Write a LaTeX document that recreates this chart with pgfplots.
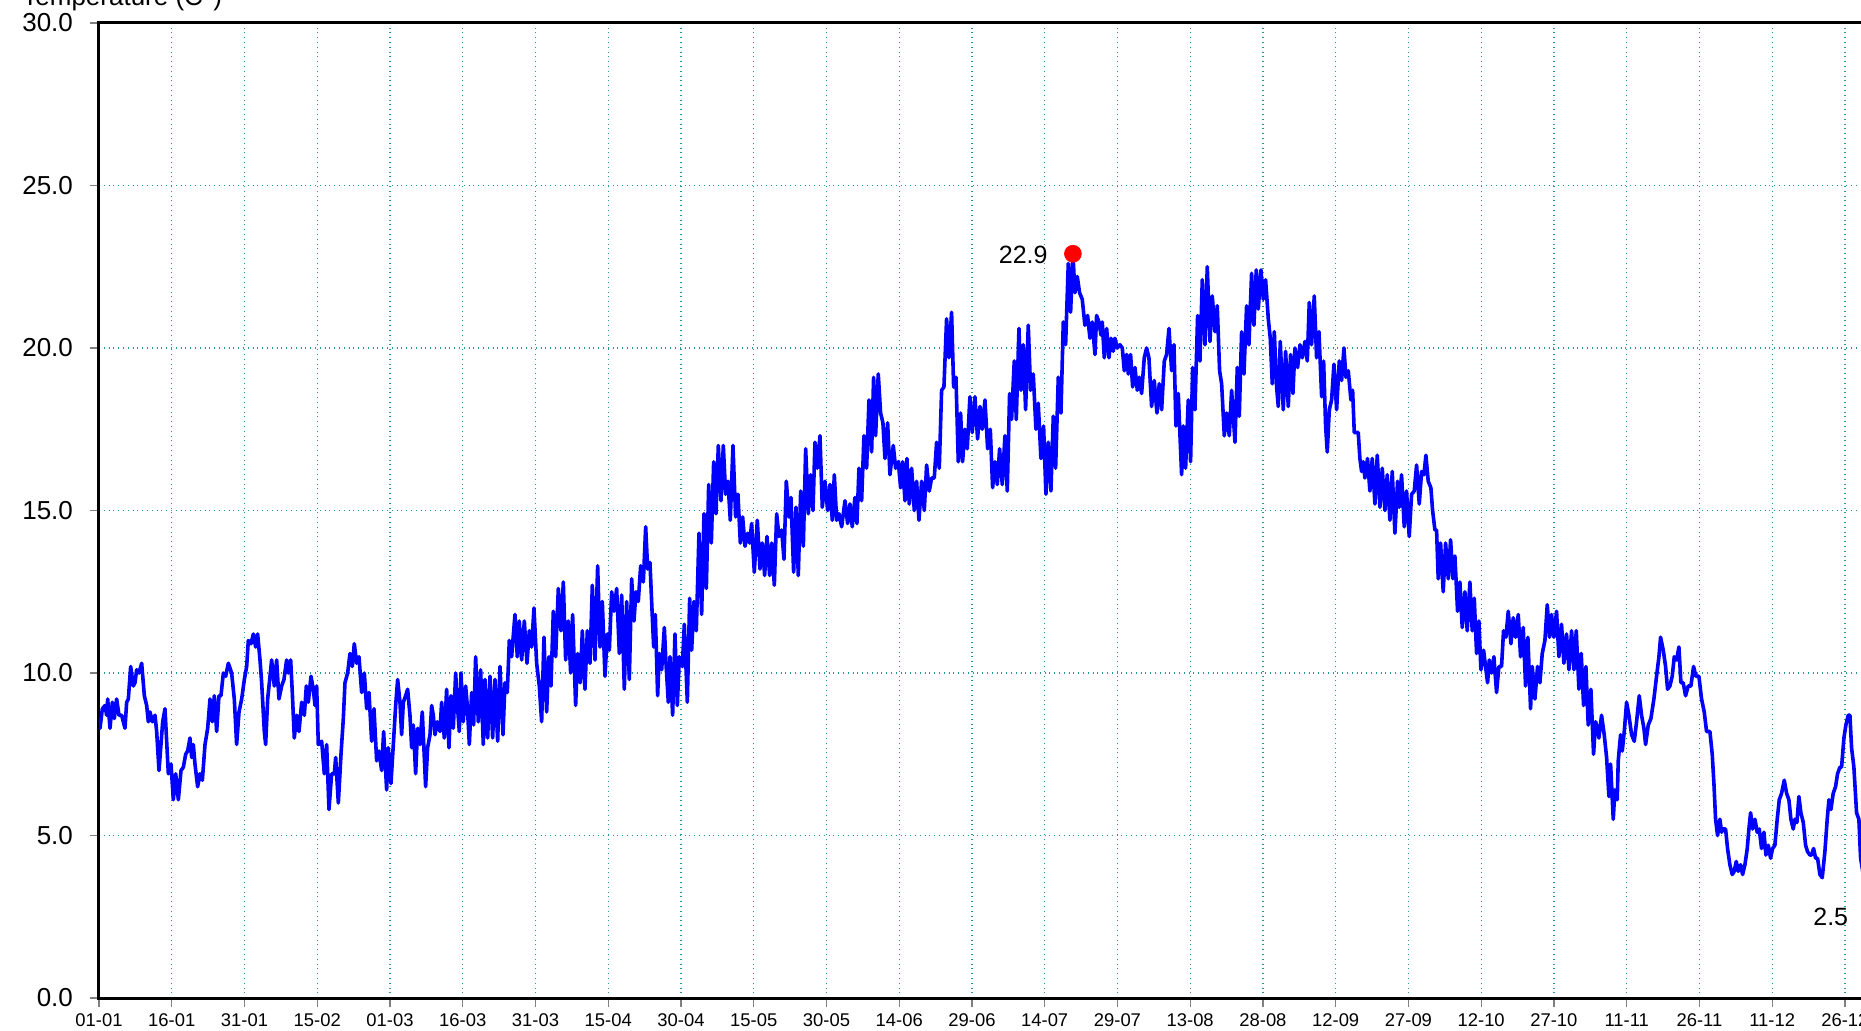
\documentclass[border=0pt]{standalone}
\usepackage{fontspec}
\setmainfont{Liberation Sans}
\usepackage{pgfplots}
\pgfplotsset{compat=1.18}
\definecolor{gridc}{RGB}{40,150,150}
\begin{document}
\begin{tikzpicture}
\begin{axis}[
  at={(0,0)}, anchor=south west,
  scale only axis, width=887.5pt, height=487.5pt,
  xmin=0, xmax=366, ymin=0, ymax=30,
  xtick={0,15,...,360},
  xticklabels={01-01,16-01,31-01,15-02,01-03,16-03,31-03,15-04,30-04,15-05,30-05,14-06,29-06,14-07,29-07,13-08,28-08,12-09,27-09,12-10,27-10,11-11,26-11,11-12,26-12},
  ytick={0,5,...,30},
  yticklabels={0.0,5.0,10.0,15.0,20.0,25.0,30.0},
  xtick pos=bottom, ytick pos=left,
  grid=major,
  major grid style={gridc, dotted, line width=0.6pt},
  axis line style={black, line width=1.5pt},
  tick align=outside,
  major tick length=4.5pt,
  tick style={gray, line width=0.6pt},
  xticklabel style={font=\fontsize{9.2}{9.2}\selectfont},
  yticklabel style={font=\fontsize{13}{13}\selectfont, xshift=-5pt},
]
\addplot[blue, line width=1.8pt, line join=round, no marks] coordinates {
(0.0,8.6)(0.21,8.3)(0.69,8.9)(1.24,9.0)(1.58,8.7)(1.79,9.2)(2.27,8.3)(2.75,9.1)(3.16,8.6)(3.64,9.2)(4.12,8.7)(4.67,8.7)(5.36,8.3)(5.70,9.1)(6.05,9.2)(6.53,10.2)(7.08,9.6)(7.42,9.7)(7.77,10.1)(8.25,10.0)(8.80,10.3)(9.35,9.3)(9.83,9.0)(10.17,8.5)(10.52,8.8)(11.0,8.5)(11.55,8.7)(11.89,8.2)(12.37,7.0)(12.78,7.8)(13.13,8.5)(13.61,8.9)(13.95,7.9)(14.30,6.9)(14.85,7.2)(15.33,6.1)(15.81,6.9)(16.36,6.1)(16.91,7.0)(17.39,7.1)(17.87,7.5)(18.28,7.6)(18.76,8.0)(19.11,7.4)(19.45,7.8)(19.79,7.2)(20.34,6.5)(20.82,6.9)(21.31,6.7)(21.86,7.8)(22.41,8.3)(22.89,9.2)(23.37,8.5)(23.78,9.3)(24.26,8.2)(24.74,9.3)(25.15,9.3)(25.64,10.0)(26.12,9.9)(26.67,10.3)(27.35,10.0)(27.90,9.2)(28.38,7.8)(28.87,8.8)(29.42,9.2)(29.97,9.8)(30.45,10.2)(30.79,11.0)(31.34,10.9)(31.82,11.2)(32.30,10.8)(32.71,11.2)(33.20,10.4)(33.54,9.7)(34.09,8.2)(34.36,7.8)(34.78,9.2)(35.26,9.9)(35.60,10.4)(36.15,9.6)(36.63,10.4)(37.11,9.2)(37.66,9.6)(38.14,9.8)(38.69,10.4)(39.04,10.0)(39.52,10.4)(39.86,9.4)(40.27,8.0)(40.76,8.7)(41.24,8.2)(41.79,9.1)(42.34,8.7)(42.75,9.6)(43.16,9.1)(43.71,9.9)(44.19,9.5)(44.54,9.0)(44.88,9.6)(45.22,7.8)(45.91,7.9)(46.46,6.9)(46.94,7.8)(47.42,5.8)(47.97,6.9)(48.52,6.9)(48.80,7.4)(49.35,6.0)(49.90,7.5)(50.38,8.6)(50.72,9.7)(51.27,10.0)(51.75,10.6)(52.23,10.2)(52.64,10.9)(53.13,10.3)(53.61,10.5)(54.16,9.4)(54.71,10.0)(55.19,8.9)(55.67,9.4)(56.22,7.9)(56.70,8.9)(57.25,7.3)(57.73,7.6)(58.28,7.0)(58.69,8.2)(59.31,6.4)(59.65,7.7)(60.20,6.6)(60.69,7.8)(61.17,9.0)(61.58,9.8)(62.06,9.1)(62.40,8.1)(62.75,9.1)(63.23,9.3)(63.64,9.5)(64.12,8.7)(64.47,7.7)(64.81,8.4)(65.29,6.9)(65.70,8.3)(66.18,7.8)(66.66,8.8)(67.35,6.5)(67.76,7.7)(68.25,8.1)(68.59,9.0)(68.93,8.7)(69.28,8.1)(69.76,8.5)(70.31,8.2)(70.65,9.1)(71.20,8.0)(71.68,9.5)(72.16,7.7)(72.58,9.3)(73.06,8.3)(73.54,10.0)(73.95,8.9)(74.29,8.2)(74.64,10.0)(75.12,8.5)(75.60,9.6)(75.94,9.0)(76.36,7.8)(76.84,9.4)(77.25,8.4)(77.66,10.5)(78.21,8.5)(78.69,10.1)(79.24,7.8)(79.59,9.8)(80.14,8.0)(80.62,9.9)(81.17,8.0)(81.65,9.8)(82.20,7.9)(82.68,10.2)(83.30,8.1)(83.71,9.7)(84.19,9.4)(84.60,11.0)(85.08,10.5)(85.77,11.8)(86.25,10.5)(86.67,11.6)(87.15,10.4)(87.70,11.6)(88.25,10.3)(88.73,11.3)(89.21,10.8)(89.69,12.0)(90.24,10.3)(90.79,9.6)(91.27,8.5)(91.75,11.1)(92.30,8.8)(92.78,10.5)(93.19,9.6)(93.68,11.9)(94.16,10.5)(94.71,12.6)(95.26,11.3)(95.74,12.8)(96.22,10.4)(96.77,11.6)(97.25,10.0)(97.66,11.8)(98.28,9.0)(98.69,10.6)(99.24,9.7)(99.66,11.3)(100.20,9.5)(100.69,11.3)(101.24,10.3)(101.72,12.7)(102.27,10.4)(102.82,13.3)(103.30,10.8)(103.78,12.2)(104.33,9.9)(104.81,11.2)(105.23,10.7)(105.71,12.5)(106.19,11.9)(106.74,12.6)(107.29,10.6)(107.77,12.4)(108.32,9.5)(108.80,12.2)(109.35,9.8)(109.83,12.9)(110.31,11.6)(110.72,12.5)(111.20,12.2)(111.69,13.3)(112.24,12.8)(112.72,14.5)(113.13,13.2)(113.61,13.4)(113.95,12.2)(114.37,10.8)(114.71,11.8)(115.19,9.3)(115.53,10.6)(116.02,10.1)(116.57,11.4)(116.91,10.3)(117.39,9.1)(117.73,10.5)(118.28,8.7)(118.76,11.2)(119.25,9.0)(119.66,10.5)(120.28,10.2)(120.69,11.5)(121.31,9.1)(121.79,12.3)(122.20,10.7)(122.68,12.2)(123.16,11.3)(123.71,14.3)(124.26,11.8)(124.74,14.9)(125.23,12.6)(125.71,15.8)(126.26,14.0)(126.74,16.5)(127.22,14.9)(127.70,17.0)(128.25,15.3)(128.73,17.0)(129.21,15.5)(129.69,15.9)(130.17,14.7)(130.72,17.0)(131.27,14.8)(131.75,15.5)(132.24,14.0)(132.72,14.8)(133.20,13.9)(133.75,14.3)(134.16,14.0)(134.57,14.6)(135.12,13.1)(135.74,14.7)(136.29,13.2)(136.77,14.0)(137.25,13.0)(137.73,14.2)(138.28,13.0)(138.70,14.0)(139.25,12.7)(139.73,14.9)(140.21,14.2)(140.76,14.4)(141.24,13.5)(141.72,15.9)(142.27,14.8)(142.68,15.4)(143.23,13.1)(143.71,15.1)(144.19,13.0)(144.68,15.6)(145.23,13.9)(145.71,16.9)(146.26,14.9)(146.74,16.1)(147.22,15.0)(147.63,17.1)(148.11,16.3)(148.66,17.3)(149.14,15.1)(149.69,15.9)(150.24,15.0)(150.72,15.8)(151.20,14.7)(151.62,16.1)(152.10,14.7)(152.58,14.9)(153.13,14.5)(153.82,15.3)(154.36,14.6)(154.84,15.2)(155.32,14.5)(155.87,15.4)(156.28,14.6)(156.70,16.3)(157.25,15.3)(157.73,17.3)(158.28,16.3)(158.76,18.4)(159.31,16.8)(159.72,19.1)(160.13,17.3)(160.68,19.2)(161.16,18.0)(161.64,17.7)(162.06,16.6)(162.61,17.7)(163.09,16.1)(163.78,17.0)(164.26,16.3)(164.81,16.5)(165.29,15.7)(165.70,16.5)(166.18,15.3)(166.59,16.6)(167.07,15.2)(167.56,16.3)(168.11,15.0)(168.59,15.9)(169.07,14.7)(169.62,15.9)(170.17,15.0)(170.65,16.4)(171.20,15.6)(171.68,16.0)(172.23,16.0)(172.71,17.1)(173.26,16.3)(173.74,18.7)(174.22,18.8)(174.77,20.9)(175.25,19.7)(175.80,21.1)(176.22,18.8)(176.70,19.1)(177.18,16.5)(177.66,18.0)(178.07,16.5)(178.55,17.5)(179.03,16.9)(179.58,18.5)(180.06,17.4)(180.61,18.5)(181.16,17.2)(181.65,18.2)(182.13,17.5)(182.68,18.4)(183.23,16.9)(183.78,17.5)(184.26,15.7)(184.74,16.5)(185.22,15.8)(185.70,16.9)(186.25,15.8)(186.80,17.3)(187.28,15.6)(187.76,18.6)(188.17,17.8)(188.72,19.6)(189.14,17.8)(189.69,20.6)(190.10,18.7)(190.58,20.1)(191.06,18.1)(191.61,20.7)(192.09,18.7)(192.64,19.2)(193.19,17.5)(193.67,18.3)(194.22,16.6)(194.77,17.6)(195.25,15.5)(195.73,17.1)(196.28,15.6)(196.77,17.9)(197.25,16.3)(197.80,19.1)(198.35,18.0)(198.83,20.8)(199.31,20.1)(199.86,22.6)(200.34,21.1)(200.82,22.9)(201.23,21.7)(201.71,22.2)(202.19,21.7)(202.74,21.5)(203.29,20.7)(203.84,21.0)(204.33,20.3)(204.81,20.8)(205.36,19.8)(205.70,21.0)(206.18,20.8)(206.60,20.4)(206.87,20.8)(207.28,19.7)(207.77,20.6)(208.25,19.7)(208.66,20.3)(209.14,19.9)(209.48,20.3)(209.96,20.0)(210.51,20.1)(211.0,20.0)(211.41,19.3)(211.89,19.8)(212.23,19.2)(212.71,19.8)(213.13,18.8)(213.61,19.4)(214.09,18.7)(214.50,19.1)(214.98,18.6)(215.53,19.7)(216.01,20.0)(216.49,19.7)(217.04,18.2)(217.59,19.0)(218.14,18.0)(218.62,18.9)(219.11,18.1)(219.66,19.6)(220.14,19.8)(220.62,20.6)(221.17,19.3)(221.65,20.1)(222.06,17.6)(222.54,18.6)(222.95,17.1)(223.23,16.1)(223.57,17.6)(224.05,16.3)(224.60,18.4)(225.08,16.5)(225.50,19.4)(225.98,18.1)(226.53,21.0)(227.01,19.6)(227.49,22.1)(228.04,20.1)(228.52,22.5)(229.07,20.2)(229.55,21.6)(230.10,20.5)(230.58,21.3)(231.06,19.3)(231.48,18.9)(232.03,17.3)(232.51,18.0)(233.06,17.3)(233.54,18.7)(234.23,17.1)(234.71,19.4)(235.12,17.9)(235.60,20.5)(236.08,19.2)(236.63,21.3)(237.11,20.1)(237.66,22.3)(238.14,20.7)(238.62,22.4)(239.04,21.2)(239.59,22.4)(240.07,21.5)(240.55,22.1)(241.10,20.9)(241.51,20.3)(241.92,18.9)(242.34,20.5)(242.82,18.8)(243.16,18.2)(243.57,20.2)(244.19,18.1)(244.67,19.9)(245.22,18.2)(245.70,19.8)(246.18,18.6)(246.60,20.0)(247.15,19.4)(247.63,20.1)(248.11,19.7)(248.66,20.2)(249.14,19.6)(249.55,21.4)(250.03,20.1)(250.58,21.6)(251.06,19.7)(251.55,20.5)(252.10,18.5)(252.51,19.6)(252.92,17.6)(253.26,16.8)(253.68,18.1)(254.16,18.4)(254.64,19.5)(255.19,18.1)(255.74,19.6)(256.22,19.0)(256.70,20.0)(257.11,19.1)(257.59,19.3)(258.14,18.4)(258.49,18.7)(258.83,17.4)(259.30,17.4)(259.65,17.4)(259.99,16.6)(260.34,16.2)(260.68,16.5)(261.02,16.0)(261.57,16.6)(262.05,15.6)(262.54,16.6)(263.09,15.2)(263.57,16.7)(264.12,15.1)(264.60,16.3)(265.15,15.0)(265.63,16.1)(266.18,14.7)(266.66,16.2)(267.21,14.3)(267.76,15.9)(268.10,15.1)(268.58,16.1)(269.13,14.5)(269.61,15.6)(270.16,14.2)(270.65,15.5)(271.20,15.6)(271.68,16.4)(272.23,15.2)(272.71,16.2)(273.19,16.1)(273.60,16.7)(274.08,15.9)(274.63,15.7)(274.98,15.0)(275.46,14.4)(275.80,14.4)(276.14,12.9)(276.63,14.0)(277.17,12.5)(277.66,14.0)(278.21,12.9)(278.69,14.1)(279.17,12.9)(279.58,13.6)(280.13,11.9)(280.61,12.8)(281.09,11.4)(281.64,12.5)(282.12,11.3)(282.67,12.8)(283.15,11.3)(283.57,12.3)(284.05,10.6)(284.53,11.6)(284.94,10.1)(285.49,10.7)(285.90,10.2)(286.32,9.7)(286.66,10.4)(287.14,10.0)(287.62,10.5)(288.17,9.4)(288.65,10.2)(289.20,10.2)(289.61,11.3)(290.10,11.1)(290.58,11.9)(291.13,10.9)(291.61,11.7)(292.09,11.1)(292.64,11.8)(293.12,10.5)(293.67,11.4)(294.15,9.6)(294.63,11.1)(295.18,8.9)(295.53,10.2)(296.08,9.2)(296.62,10.2)(297.11,9.7)(297.59,10.6)(298.14,11.0)(298.62,12.1)(299.10,11.1)(299.51,11.8)(299.99,11.1)(300.54,11.9)(301.02,10.5)(301.57,11.5)(302.05,10.3)(302.60,11.2)(303.09,10.1)(303.64,11.3)(304.12,10.1)(304.60,11.3)(305.15,9.5)(305.63,10.6)(306.11,9.0)(306.59,10.2)(307.07,8.4)(307.62,9.5)(308.17,7.5)(308.58,8.5)(308.79,8.4)(309.27,8.0)(309.82,8.7)(310.37,8.1)(310.86,7.4)(311.34,6.2)(311.68,7.2)(312.23,5.5)(312.57,6.4)(313.05,6.1)(313.26,7.3)(313.74,8.1)(314.09,7.6)(314.50,8.2)(314.98,9.1)(315.46,8.7)(316.01,8.1)(316.56,7.9)(317.04,8.5)(317.59,9.3)(318.07,8.7)(318.55,8.3)(318.90,7.8)(319.45,8.4)(320.0,8.6)(320.61,9.2)(321.16,9.9)(321.65,10.5)(321.99,11.1)(322.54,10.7)(323.02,10.2)(323.43,9.5)(323.91,9.6)(324.39,9.9)(324.81,10.5)(325.29,10.4)(325.77,10.8)(326.18,9.7)(326.66,9.7)(327.14,9.3)(327.69,9.6)(328.24,9.6)(328.79,10.2)(329.27,9.9)(329.89,9.9)(330.44,9.2)(330.99,8.8)(331.47,8.2)(332.16,8.2)(332.64,7.5)(332.99,6.6)(333.33,5.5)(333.74,5.0)(334.22,5.5)(334.57,5.1)(334.91,5.2)(335.39,5.2)(335.80,4.6)(336.28,4.1)(336.77,3.8)(337.18,3.9)(337.59,4.2)(338.00,3.9)(338.48,4.1)(338.90,3.8)(339.38,4.1)(339.86,4.6)(340.20,5.2)(340.55,5.7)(340.96,5.2)(341.44,5.5)(341.92,5.1)(342.33,5.2)(342.81,4.6)(343.30,5.1)(343.71,4.4)(344.19,4.7)(344.67,4.3)(345.08,4.6)(345.56,4.7)(346.04,5.5)(346.46,6.1)(346.94,6.3)(347.49,6.7)(347.97,6.3)(348.45,6.1)(348.86,5.5)(349.34,5.2)(349.69,5.5)(350.10,5.4)(350.51,6.2)(350.92,5.7)(351.41,5.4)(351.89,4.7)(352.30,4.5)(352.78,4.4)(353.12,4.4)(353.54,4.6)(353.95,4.3)(354.36,4.3)(354.84,3.8)(355.32,3.7)(355.87,4.5)(356.35,5.5)(356.70,6.1)(357.11,5.8)(357.59,6.3)(358.07,6.5)(358.48,6.9)(358.96,7.1)(359.31,7.1)(359.79,8.0)(360.20,8.4)(360.68,8.7)(361.03,8.7)(361.37,7.7)(361.85,7.1)(362.40,5.7)(362.88,5.5)(363.23,4.3)(364.0,3.6)(365.0,3.0)(365.9,2.5)
};
\addplot[only marks, mark=*, mark size=4.2pt, red, mark options={draw=red, fill=red}] coordinates {(200.82,22.9)(365.9,2.5)};
\node[anchor=east, inner sep=0pt, font=\fontsize{12.5}{12.5}\selectfont] at (axis cs:200.82,22.9) [xshift=-12.5pt, yshift=-0.8pt] {22.9};
\node[anchor=east, inner sep=0pt, font=\fontsize{12.5}{12.5}\selectfont] at (axis cs:365.9,2.5) [xshift=-12.5pt] {2.5};
\end{axis}
\node[anchor=base west, inner sep=0pt, font=\fontsize{13}{13}\selectfont] at (-38.5pt,496pt) {Temperature (C°)};
\pgfresetboundingbox
\path[use as bounding box] (-49.5pt,-16pt) rectangle (881pt,499pt);
\end{tikzpicture}
\end{document}
